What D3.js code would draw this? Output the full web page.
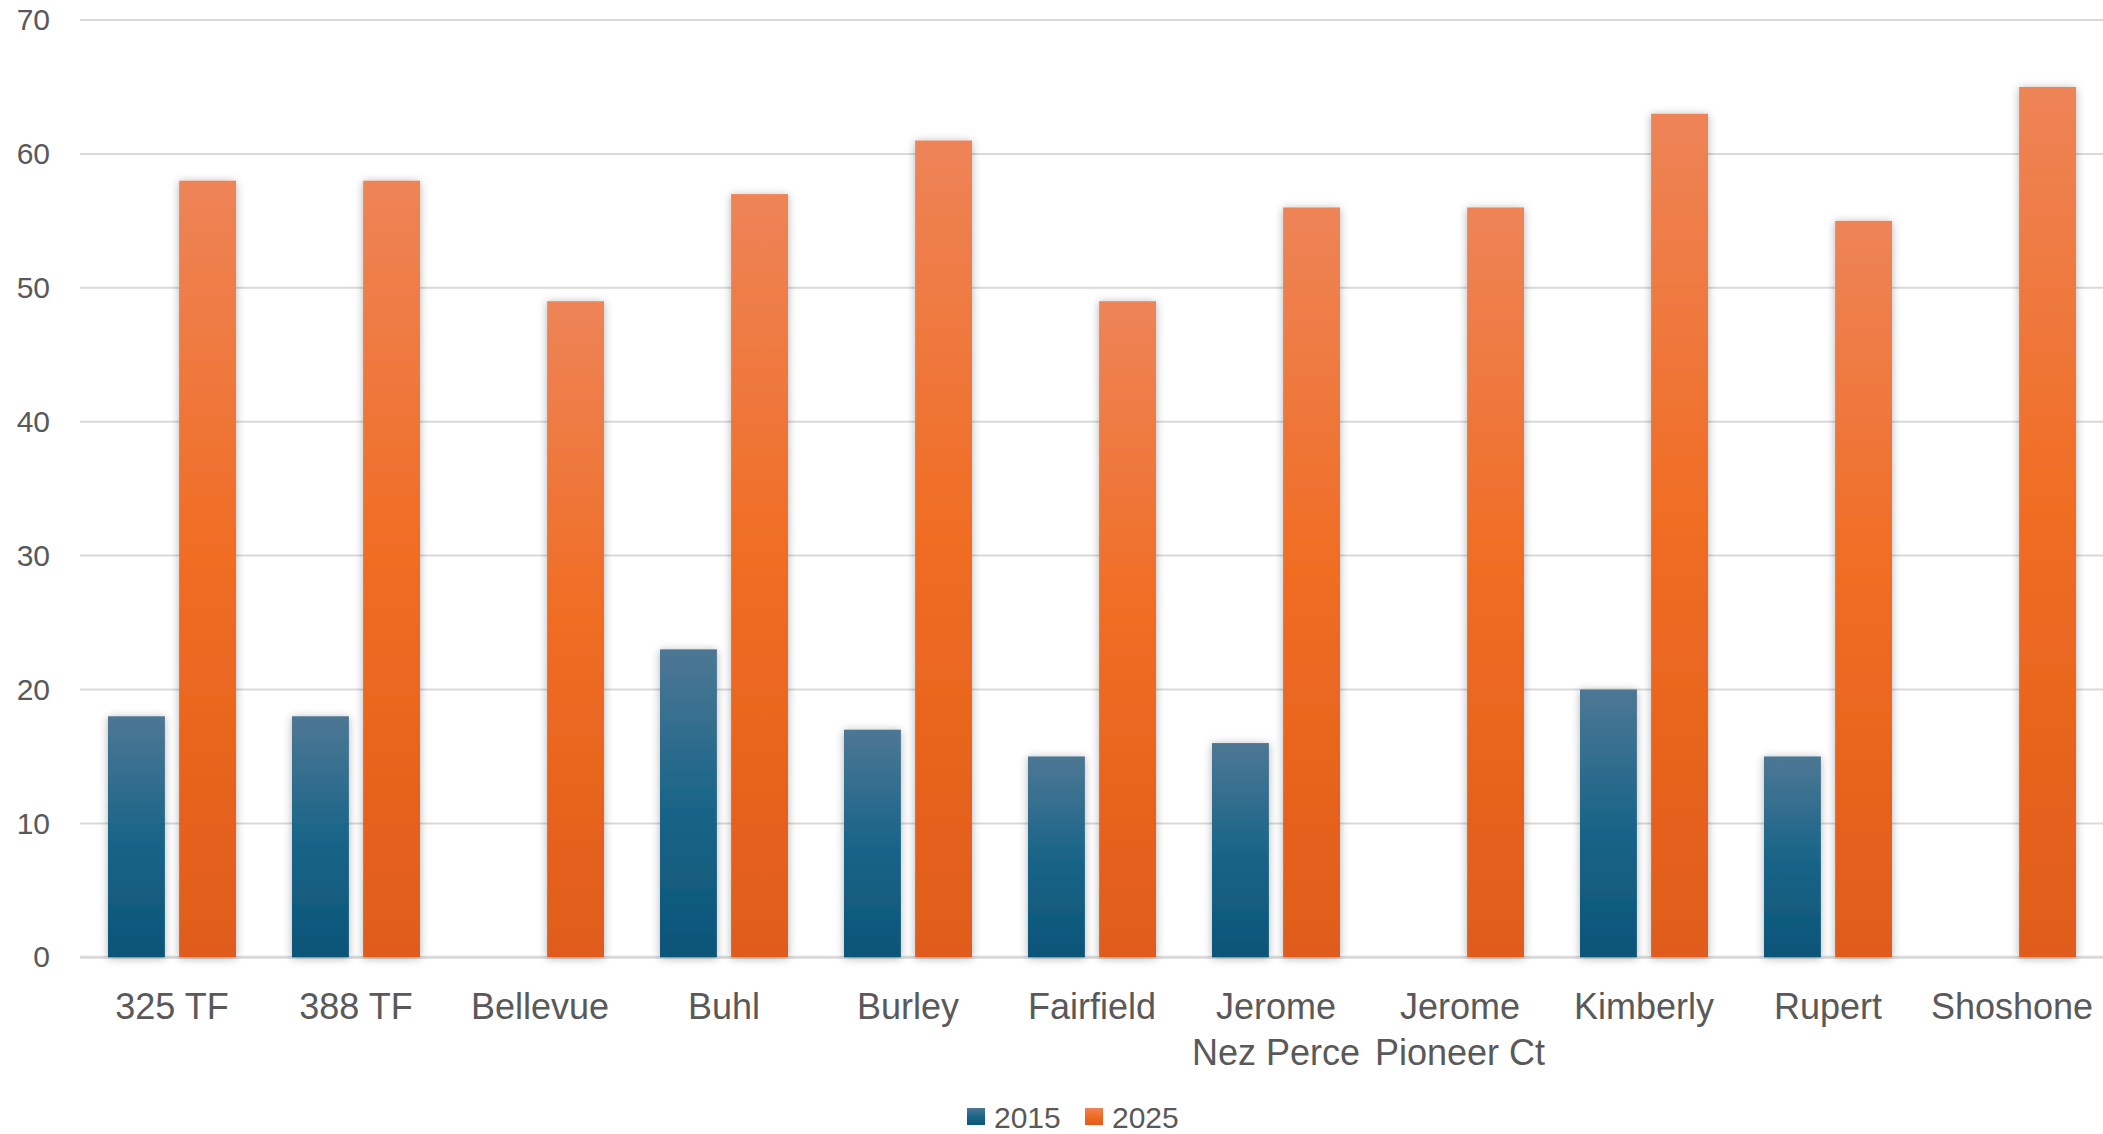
<!DOCTYPE html>
<html><head><meta charset="utf-8">
<script src="https://cdn.jsdelivr.net/npm/d3@7"></script>
<style>html,body{margin:0;padding:0;background:#fff;}svg{display:block;}</style>
</head><body>
<script>
const categories = ["325 TF","388 TF","Bellevue","Buhl","Burley","Fairfield","Jerome Nez Perce","Jerome Pioneer Ct","Kimberly","Rupert","Shoshone"];
const seriesNames = ["2015","2025"];
const values2015 = [18,18,0,23,17,15,16,0,20,15,0];
const values2025 = [58,58,49,57,61,49,56,56,63,55,65];
const yTicks = [0,10,20,30,40,50,60,70];

const W = 2103, H = 1134;
const svg = d3.select("body").append("svg").attr("width", W).attr("height", H);
const defs = svg.append("defs");

const grads = [
  {id:"g2015", stops:[["0%","#4d7794"],["50%","#1a6588"],["100%","#0b5578"]]},
  {id:"g2025", stops:[["0%","#ee8457"],["50%","#f06c22"],["100%","#e05c1a"]]}
];
grads.forEach(g => {
  const lg = defs.append("linearGradient").attr("id", g.id).attr("x1",0).attr("y1",0).attr("x2",0).attr("y2",1);
  g.stops.forEach(s => lg.append("stop").attr("offset", s[0]).attr("stop-color", s[1]));
});
const f = defs.append("filter").attr("id","shadow").attr("x","-30%").attr("y","-10%").attr("width","160%").attr("height","120%");
f.append("feDropShadow").attr("dx",0).attr("dy",1).attr("stdDeviation",4).attr("flood-color","#000").attr("flood-opacity",0.3);

const plotLeft = 80, plotRight = 2104, plotTop = 20, plotBottom = 957.3;
const pad = 56/184;
const x0 = d3.scaleBand().domain(categories).range([plotLeft, plotRight]).paddingInner(pad).paddingOuter(pad/2);
const x1 = d3.scaleBand().domain(seriesNames).range([0, x0.bandwidth()]).paddingInner(0.2);
const y = d3.scaleLinear().domain([0,70]).range([plotBottom, plotTop]);

// grid
const grid = svg.append("g");
grid.selectAll("line").data(yTicks).join("line")
  .attr("x1", plotLeft).attr("x2", W)
  .attr("y1", d => y(d)).attr("y2", d => y(d))
  .attr("stroke", "#d9d9d9").attr("stroke-width", d => d === 0 ? 3 : 2);

// y axis labels
const yAxis = d3.axisLeft(y).tickValues(yTicks).tickSize(0).tickPadding(0);
const yg = svg.append("g").attr("transform", `translate(50,0)`).call(yAxis);
yg.select(".domain").remove();
yg.selectAll("text").attr("font-family","'Liberation Sans', Arial, sans-serif").attr("font-size",30).attr("fill","#595959");

// bars
const data = categories.map((c,i) => ({cat:c, vals:[{s:"2015", v:values2015[i]},{s:"2025", v:values2025[i]}]}));
const groups = svg.append("g").selectAll("g").data(data).join("g")
  .attr("transform", d => `translate(${x0(d.cat)},0)`);
groups.selectAll("rect").data(d => d.vals.filter(v => v.v > 0)).join("rect")
  .attr("x", d => x1(d.s)).attr("width", x1.bandwidth())
  .attr("y", d => y(d.v)).attr("height", d => y(0) - y(d.v))
  .attr("fill", d => `url(#g${d.s})`).attr("filter","url(#shadow)");

// x labels
const xl = svg.append("g");
const labelLines = {"Jerome Nez Perce":["Jerome","Nez Perce"], "Jerome Pioneer Ct":["Jerome","Pioneer Ct"]};
categories.forEach(c => {
  const lines = labelLines[c] || [c];
  const t = xl.append("text").attr("text-anchor","middle")
    .attr("font-family","'Liberation Sans', Arial, sans-serif").attr("font-size",36).attr("fill","#595959");
  lines.forEach((ln, i) => t.append("tspan").attr("x", x0(c) + x0.bandwidth()/2).attr("y", 1019 + i*46).text(ln));
});

// legend
const lgnd = svg.append("g");
const legendItems = [{s:"2015", x:967},{s:"2025", x:1085}];
legendItems.forEach(it => {
  lgnd.append("rect").attr("x", it.x).attr("y", 1108).attr("width", 18).attr("height", 17).attr("fill", `url(#g${it.s})`);
  lgnd.append("text").attr("x", it.x + 27).attr("y", 1128)
    .attr("font-family","'Liberation Sans', Arial, sans-serif").attr("font-size",30).attr("fill","#595959").text(it.s);
});
</script>
</body></html>
